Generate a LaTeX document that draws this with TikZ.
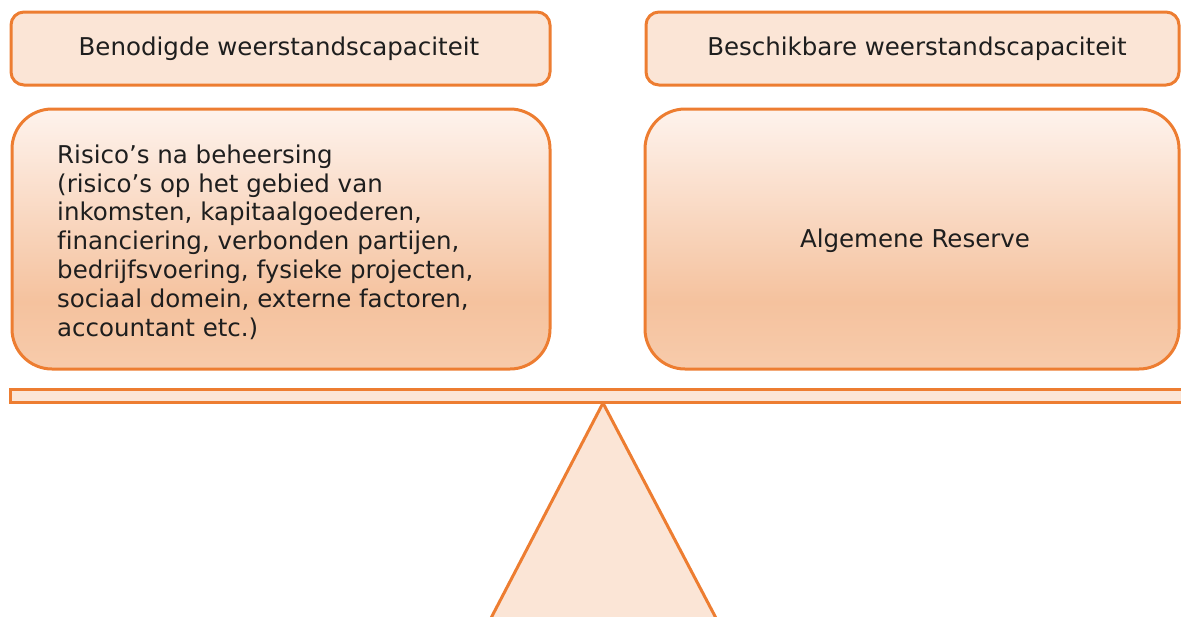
\documentclass[tikz,border=0pt]{standalone}
\usepackage{fontspec}
\setmainfont{DejaVu Sans}[Ligatures=NoCommon]
\definecolor{orangeline}{HTML}{ED7D31}
\definecolor{lightfill}{HTML}{FBE5D6}
\definecolor{gradtop}{HTML}{FEF3ED}
\definecolor{gradmid}{HTML}{F5C29E}
\definecolor{gradbot}{HTML}{F7CBAB}
\definecolor{txtcol}{HTML}{1E1E1E}
\pgfdeclareverticalshading{boxgrad}{100bp}{color(0bp)=(gradbot); color(25bp)=(gradbot); color(38bp)=(gradmid); color(75bp)=(gradtop); color(100bp)=(gradtop)}
\begin{document}
\begin{tikzpicture}[x=1pt,y=-1pt,
  headbox/.style={draw=orangeline,line width=3pt,fill=lightfill,rounded corners=13pt},
  bigbox/.style={draw=orangeline,line width=3pt,shading=boxgrad,rounded corners=40pt},
  flatpart/.style={draw=orangeline,line width=3pt,fill=lightfill,line join=miter},
  txt/.style={font=\fontsize{24.5}{28.8}\selectfont,text=txtcol,inner sep=0pt}]
\useasboundingbox (0,0) rectangle (1181,616);
% triangle (fulcrum)
\coordinate (apex) at (603,403);
\coordinate (bl) at (490,620);
\coordinate (br) at (717,620);
\draw[flatpart] (bl) -- (apex) -- (br);
% beam
\draw[flatpart] (10,389) rectangle (1190,402);
% header boxes
\draw[headbox] (11,12) rectangle (550,85);
\draw[headbox] (646,12) rectangle (1179,85);
\node[txt] (h1) at (279,49) {Benodigde weerstandscapaciteit};
\node[txt] (h2) at (917,49) {Beschikbare weerstandscapaciteit};
% big boxes
\draw[bigbox] (12,109) rectangle (550,369);
\draw[bigbox] (645,109) rectangle (1179,369);
\node[txt,anchor=west,align=left] (l1) at (57,242) {Risico’s na beheersing\\(risico’s op het gebied van\\inkomsten, kapitaalgoederen,\\financiering, verbonden partijen,\\bedrijfsvoering, fysieke projecten,\\sociaal domein, externe factoren,\\accountant etc.)};
\node[txt] (r1) at (915,241) {Algemene Reserve};
\end{tikzpicture}
\end{document}
